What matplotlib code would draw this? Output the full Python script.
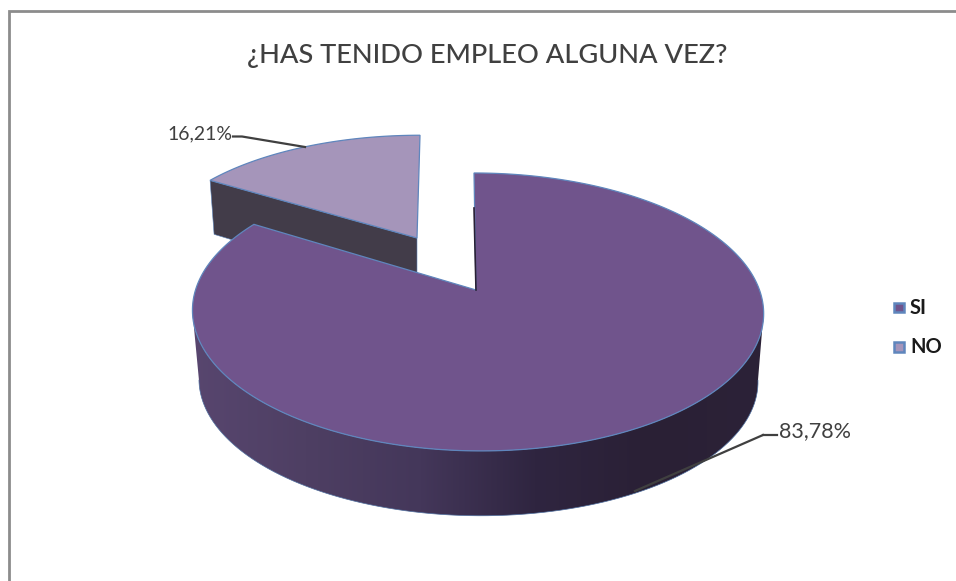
import numpy as np
import matplotlib
matplotlib.use('Agg')
import matplotlib.pyplot as plt
from matplotlib.colors import LinearSegmentedColormap
from matplotlib.patches import Polygon, Rectangle

plt.rcParams['font.family'] = ['Lato', 'DejaVu Sans']

title = '¿HAS TENIDO EMPLEO ALGUNA VEZ?'
categories = ['SI', 'NO']
values = [83.78, 16.21]
value_labels = ['83,78%', '16,21%']

main_top = '#70548c'
small_top = '#a595ba'
small_side = '#423c49'
edge_blue = '#5f86bd'
text_col = '#404040'

K = 0.158  # perspective of the tilted disc


def rim(phi_deg, x0, y0, a, b, skew=0.0):
    # phi measured clockwise from 12 o'clock
    p = np.radians(phi_deg)
    u, v = np.sin(p), np.cos(p)
    d = 1 + K * v
    return np.column_stack([x0 + a * u / d + skew * (1 - v), y0 - b * v / d])


fig = plt.figure(figsize=(9.56, 5.81), dpi=100)
ax = fig.add_axes([0, 0, 1, 1])
ax.set_xlim(0, 956)
ax.set_ylim(581, 0)
ax.axis('off')

# frame
ax.plot([8.6, 8.6, 956], [581, 11.3, 11.3], color='#8c8c8c', lw=2.0, solid_capstyle='butt', solid_joinstyle='miter')

ax.text(487.5, 55, title, ha='center', va='center', fontsize=19.6, color=text_col, fontweight='medium')

total = sum(values)
sweep_main = 360 * values[0] / total
sweep_small = 360 * values[1] / total

# small slice, pulled away from the centre
phi_s = np.linspace(-sweep_small, 0, 60)
rim_s = rim(phi_s, 420, 238, 267, 119, 0)
apex_s = np.array([417, 238])
tip = rim_s[0]
side = np.array([tip, apex_s, apex_s + [0, 58], tip + [4, 54]])
ax.add_patch(Polygon(side, closed=True, fc=small_side, ec=edge_blue, lw=0.4, zorder=2))
ax.add_patch(Polygon(np.vstack([apex_s, rim_s]), closed=True, fc=small_top, ec=edge_blue, lw=0.9, zorder=3))

# main slice
apex_m = np.array([476, 290])
phi_m = np.linspace(0, sweep_main, 300)
rim_m = rim(phi_m, 474, 290, 282, 135.5, 3.5)

# outer wall: upper rim front part + lower rim back again, between the widest points
phi_w = np.linspace(99, 261, 200)
wall_up = rim(phi_w, 474, 290, 282, 135.5, 3.5)
wall_lo = rim(phi_w, 475, 359, 276, 132, 3)
wall = Polygon(np.vstack([wall_up, wall_lo[::-1]]), closed=True, fc='none', ec='none', zorder=4)
ax.add_patch(wall)
cmap = LinearSegmentedColormap.from_list('wall', ['#58466f', '#4e3f63', '#44375a', '#2f2540', '#2a2035', '#2c2238'])
grad = np.linspace(0, 1, 256).reshape(1, -1)
im = ax.imshow(grad, cmap=cmap, extent=[190, 766, 581, 0], aspect='auto', zorder=4)
im.set_clip_path(wall)
ax.set_xlim(0, 956)
ax.set_ylim(581, 0)
ax.plot(wall_lo[:, 0], wall_lo[:, 1], color='#4f6f9f', lw=0.5, zorder=5)

ax.add_patch(Polygon(np.vstack([apex_m, rim_m]), closed=True, fc=main_top, ec=edge_blue, lw=0.9, zorder=6))
# thin face seen at the start of the main slice
ax.plot([474, 476], [208, 290], color='#2a2035', lw=1.2, zorder=6.5)

# labels with leader lines
ax.plot([763, 777], [435, 435], color=text_col, lw=1.6, zorder=7)
ax.plot([635, 763], [491, 435], color=text_col, lw=1.6, zorder=7)
ax.text(779, 431, value_labels[0], ha='left', va='center', fontsize=15.5, color=text_col)
ax.plot([233, 242, 305], [136.5, 136.5, 147], color=text_col, lw=1.6, zorder=7)
ax.text(167, 134, value_labels[1], ha='left', va='center', fontsize=14, color=text_col)

# legend
for name, col, y in zip(categories, [main_top, small_top], [307.5, 347]):
    ax.add_patch(Rectangle((894.5, y - 4.7), 9.4, 9.4, fc=col, ec=edge_blue, lw=1.8, zorder=7))
    ax.text(910, y, name, ha='left', va='center', fontsize=14.5, color='#1a1a1a', fontweight='bold')

fig.savefig('out.png', dpi=100)
